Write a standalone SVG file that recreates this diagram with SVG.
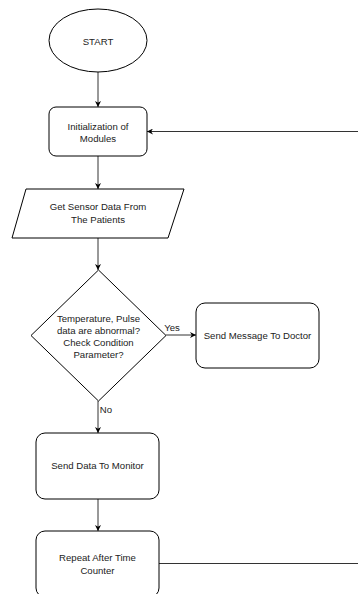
<svg xmlns="http://www.w3.org/2000/svg" width="358" height="594" viewBox="0 0 358 594">
<style>
.n{fill:#fff;stroke:#000;stroke-width:1}
.t{font-family:"Liberation Sans",Arial,sans-serif;font-size:9.6px;fill:#222;text-anchor:middle;dominant-baseline:central}
.c{fill:none;stroke:#333;stroke-width:1}
</style>
<defs>
<marker id="a" viewBox="0 0 10 10" refX="10" refY="5" markerWidth="6" markerHeight="6" markerUnits="userSpaceOnUse" orient="auto">
<path d="M0,0 L10,5 L0,10 L3,5 Z" fill="#000"/>
</marker>
</defs>
<rect width="358" height="594" fill="#fff"/>
<g id="connectors">
<path class="c" d="M98,72 V107" marker-end="url(#a)"/>
<path class="c" d="M98,156 V189" marker-end="url(#a)"/>
<path class="c" d="M98,238 V270" marker-end="url(#a)"/>
<path class="c" d="M166,335 H196" marker-end="url(#a)"/>
<path class="c" d="M98,401 V433" marker-end="url(#a)"/>
<path class="c" d="M98,499 V531" marker-end="url(#a)"/>
<path class="c" d="M159,563.5 H358"/>
<path class="c" d="M358,131.5 H147" marker-end="url(#a)"/>
<text class="t" x="172" y="327">Yes</text>
<text class="t" x="106" y="409">No</text>
</g>
<g id="start">
<ellipse class="n" cx="98" cy="40.5" rx="49" ry="31.5"/>
<text class="t" x="98" y="41">START</text>
</g>
<g id="init">
<rect class="n" x="49" y="107" width="98" height="49" rx="7"/>
<text class="t" x="98" y="126.5">Initialization of</text>
<text class="t" x="98" y="138">Modules</text>
</g>
<g id="sensor">
<polygon class="n" points="26,189 184,189 168,238 12,238"/>
<text class="t" x="98" y="206.5">Get Sensor Data From</text>
<text class="t" x="98" y="219">The Patients</text>
</g>
<g id="decision">
<polygon class="n" points="98.5,270 166,335.5 98.5,401 31,335.5"/>
<text class="t" x="98.5" y="318.5">Temperature, Pulse</text>
<text class="t" x="98.5" y="330.5">data are abnormal?</text>
<text class="t" x="98.5" y="342.5">Check Condition</text>
<text class="t" x="98.5" y="354.5">Parameter?</text>
</g>
<g id="doctor">
<rect class="n" x="196" y="303" width="123" height="65" rx="9"/>
<text class="t" x="257.5" y="335.5">Send Message To Doctor</text>
</g>
<g id="monitor">
<rect class="n" x="36" y="433" width="123" height="66" rx="9"/>
<text class="t" x="97.5" y="465.5">Send Data To Monitor</text>
</g>
<g id="repeat">
<rect class="n" x="36" y="531" width="123" height="66" rx="9"/>
<text class="t" x="97.5" y="557.5">Repeat After Time</text>
<text class="t" x="97.5" y="570">Counter</text>
</g>
</svg>
